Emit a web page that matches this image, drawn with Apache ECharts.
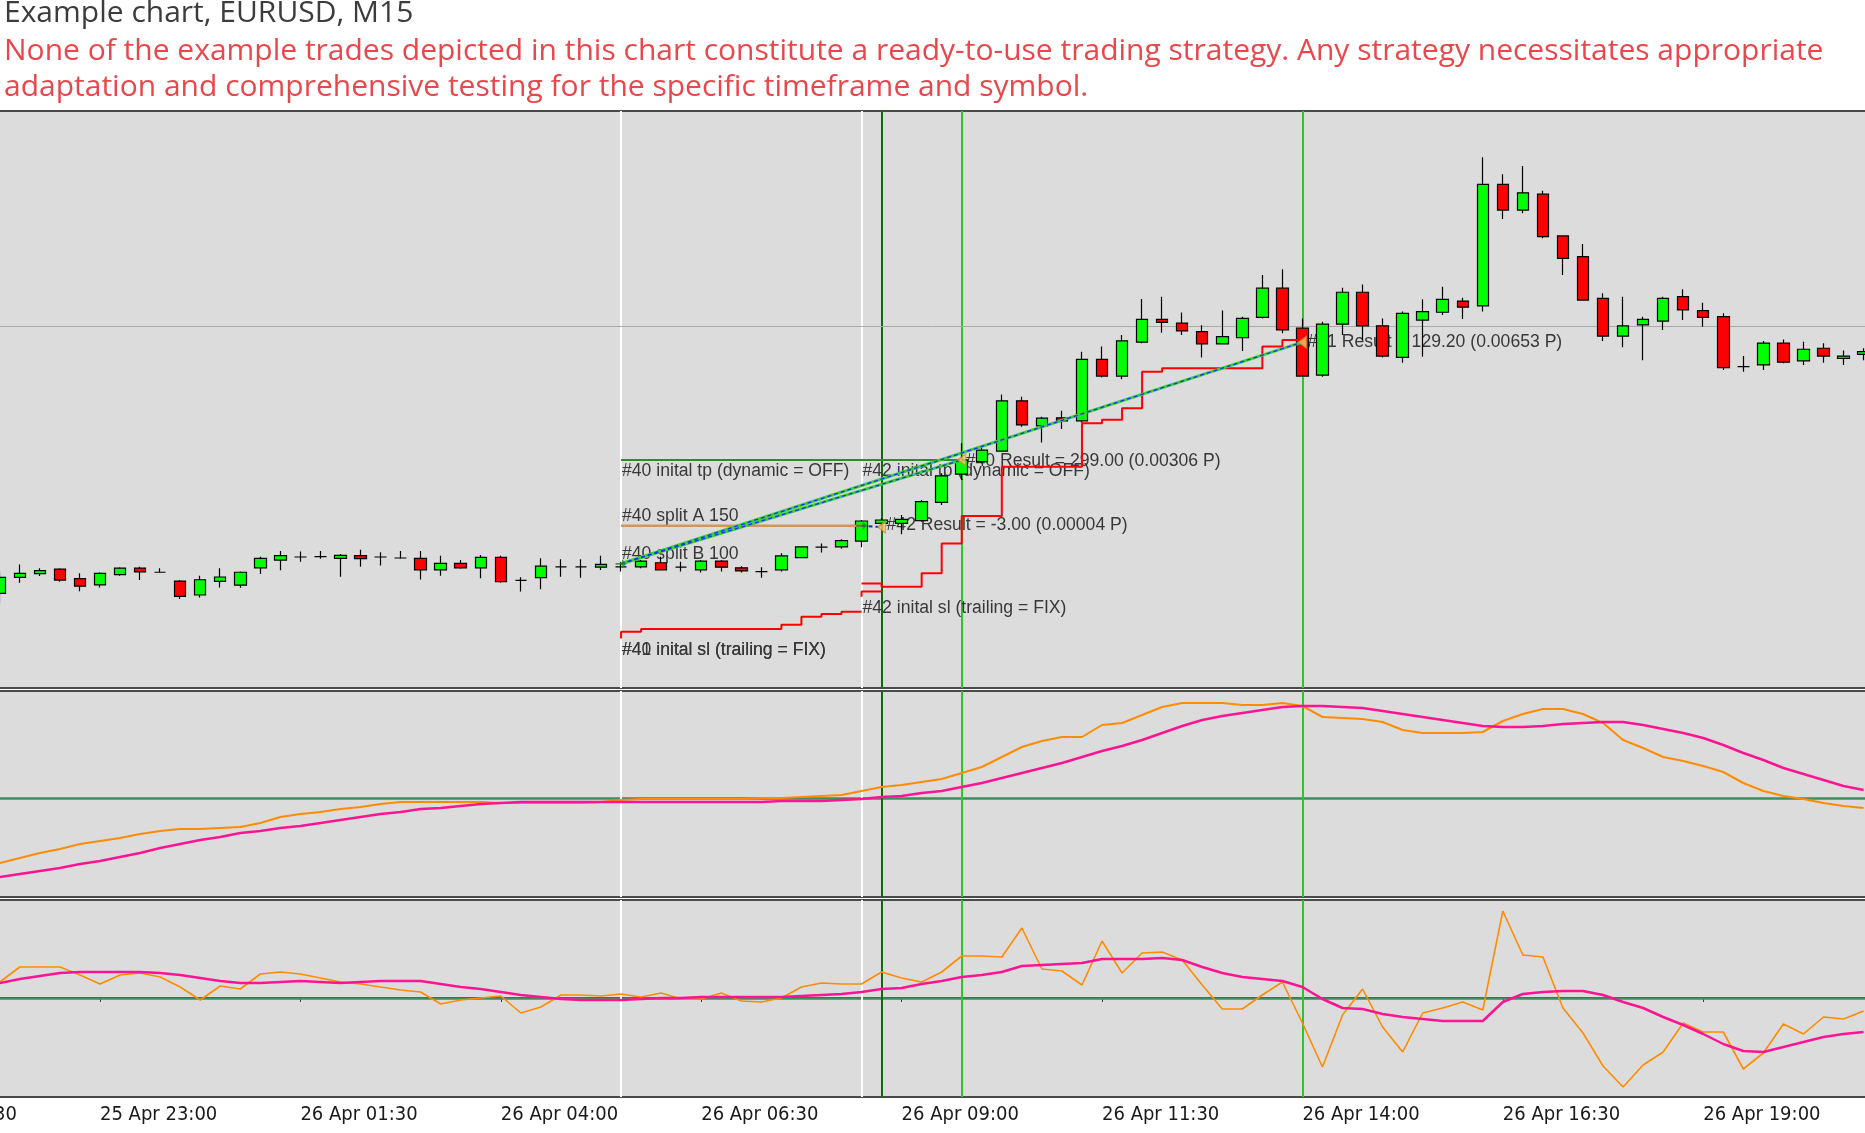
<!DOCTYPE html>
<html><head><meta charset="utf-8">
<script src="https://cdn.jsdelivr.net/npm/echarts@6/dist/echarts.min.js"></script>
<style>html,body{margin:0;padding:0;background:#fff}#c{width:1865px;height:1133px}</style>
</head><body><div id="c"></div><script>
// ---- categories (M15 bars) ----
const day25 = ['20:30','20:45','21:00','21:15','21:30','21:45','22:00','22:15','22:30','22:45','23:00','23:15','23:30','23:45'];
const day26 = [
 '00:00','00:15','00:30','00:45','01:00','01:15','01:30','01:45','02:00','02:15','02:30','02:45',
 '03:00','03:15','03:30','03:45','04:00','04:15','04:30','04:45','05:00','05:15','05:30','05:45',
 '06:00','06:15','06:30','06:45','07:00','07:15','07:30','07:45','08:00','08:15','08:30','08:45',
 '09:00','09:15','09:30','09:45','10:00','10:15','10:30','10:45','11:00','11:15','11:30','11:45',
 '12:00','12:15','12:30','12:45','13:00','13:15','13:30','13:45','14:00','14:15','14:30','14:45',
 '15:00','15:15','15:30','15:45','16:00','16:15','16:30','16:45','17:00','17:15','17:30','17:45',
 '18:00','18:15','18:30','18:45','19:00','19:15','19:30','19:45','20:00','20:15','20:30','20:45',
 '21:00','21:15'];
const categories = day25.map(t => '25 Apr ' + t).concat(day26.map(t => '26 Apr ' + t));
const firstBar = '25 Apr 21:45';

// ---- price candles: [open, close, low, high] ----
const ohlc = [
[1.06779,1.06826,1.06750,1.06843],[1.06826,1.06838,1.06810,1.06864],[1.06837,1.06846,1.06830,1.06853],
[1.06850,1.06818,1.06813,1.06853],[1.06822,1.06800,1.06785,1.06838],[1.06804,1.06838,1.06796,1.06841],
[1.06834,1.06853,1.06831,1.06856],[1.06853,1.06842,1.06818,1.06857],[1.06841,1.06841,1.06840,1.06853],
[1.06815,1.06770,1.06762,1.06818],[1.06774,1.06819,1.06767,1.06831],[1.06814,1.06827,1.06796,1.06853],
[1.06803,1.06841,1.06795,1.06843],[1.06854,1.06882,1.06836,1.06887],[1.06877,1.06890,1.06847,1.06904],
[1.06886,1.06886,1.06872,1.06902],[1.06887,1.06887,1.06881,1.06904],[1.06882,1.06891,1.06828,1.06895],
[1.06890,1.06881,1.06857,1.06907],[1.06886,1.06886,1.06861,1.06900],[1.06883,1.06883,1.06881,1.06904],
[1.06882,1.06848,1.06820,1.06904],[1.06848,1.06867,1.06831,1.06890],[1.06867,1.06854,1.06851,1.06877],
[1.06854,1.06885,1.06823,1.06892],[1.06885,1.06813,1.06810,1.06890],[1.06817,1.06817,1.06784,1.06826],
[1.06825,1.06859,1.06791,1.06882],[1.06857,1.06857,1.06828,1.06879],[1.06857,1.06857,1.06825,1.06879],
[1.06856,1.06864,1.06848,1.06890],[1.06857,1.06857,1.06843,1.06872],[1.06857,1.06874,1.06853,1.06877],
[1.06869,1.06848,1.06848,1.06887],[1.06856,1.06856,1.06843,1.06872],[1.06848,1.06874,1.06840,1.06877],
[1.06874,1.06856,1.06843,1.06877],[1.06854,1.06845,1.06840,1.06859],[1.06843,1.06843,1.06825,1.06856],
[1.06848,1.06889,1.06843,1.06897],[1.06884,1.06916,1.06882,1.06918],[1.06915,1.06915,1.06899,1.06926],
[1.06916,1.06934,1.06910,1.06938],[1.06933,1.06992,1.06915,1.06995],[1.06985,1.06995,1.06975,1.07000],
[1.06985,1.06997,1.06953,1.07010],[1.06993,1.07049,1.06990,1.07054],[1.07047,1.07125,1.07039,1.07133],
[1.07130,1.07172,1.07113,1.07221],[1.07167,1.07201,1.07162,1.07216],[1.07198,1.07346,1.07196,1.07365],
[1.07346,1.07275,1.07270,1.07358],[1.07272,1.07295,1.07223,1.07299],[1.07296,1.07287,1.07263,1.07317],
[1.07287,1.07468,1.07282,1.07491],[1.07468,1.07419,1.07415,1.07506],[1.07419,1.07523,1.07410,1.07540],
[1.07519,1.07586,1.07516,1.07646],[1.07586,1.07577,1.07547,1.07653],[1.07575,1.07552,1.07540,1.07606],
[1.07550,1.07514,1.07474,1.07569],[1.07514,1.07535,1.07514,1.07612],[1.07532,1.07589,1.07493,1.07594],
[1.07592,1.07678,1.07589,1.07717],[1.07678,1.07555,1.07545,1.07734],[1.07560,1.07419,1.07419,1.07589],
[1.07422,1.07572,1.07417,1.07579],[1.07572,1.07666,1.07540,1.07679],[1.07666,1.07567,1.07525,1.07689],
[1.07567,1.07478,1.07474,1.07589],[1.07474,1.07604,1.07458,1.07609],[1.07584,1.07609,1.07476,1.07645],
[1.07607,1.07645,1.07599,1.07682],[1.07640,1.07622,1.07587,1.07650],[1.07626,1.07984,1.07609,1.08064],
[1.07984,1.07908,1.07882,1.08014],[1.07908,1.07959,1.07899,1.08038],[1.07955,1.07830,1.07825,1.07965],
[1.07832,1.07766,1.07717,1.07832],[1.07771,1.07643,1.07643,1.07808],[1.07648,1.07537,1.07522,1.07663],
[1.07537,1.07567,1.07504,1.07653],[1.07570,1.07586,1.07466,1.07594],[1.07581,1.07648,1.07555,1.07653],
[1.07653,1.07614,1.07584,1.07675],[1.07612,1.07592,1.07564,1.07635],[1.07594,1.07444,1.07437,1.07604],
[1.07447,1.07447,1.07432,1.07478],[1.07452,1.07516,1.07437,1.07522],[1.07516,1.07460,1.07457,1.07527],
[1.07464,1.07498,1.07452,1.07520],[1.07501,1.07478,1.07458,1.07516],[1.07471,1.07478,1.07452,1.07494],
[1.07483,1.07491,1.07466,1.07501]];

// ---- indicator pane 1 (points) ----
const osc1Fast = [-65,-60,-55,-51,-46,-43,-40,-36,-33,-31,-31,-30,-29,-25,-19,-16,-14,-11,-9,-6,
 -4,-4,-4,-4,-4,-5,-5,-5,-5,-5,-4,-2,-1,-1,-1,-1,-1,-1,0,0,1,2,3,7,11,13,16,19,25,31,
 41,51,57,61,61,73,75,83,91,95,95,95,93,93,95,92,81,80,79,76,68,65,65,65,66,77,84,89,89,84,
 75,58,50,41,37,32,26,15,7,2,-1,-5,-8,-10];
const osc1Slow = [-79,-76,-73,-70,-66,-63,-59,-55,-50,-46,-42,-39,-35,-33,-30,-28,-25,-22,-19,-16,
 -14,-11,-10,-8,-6,-5,-4,-4,-4,-4,-4,-4,-4,-4,-4,-4,-4,-4,-4,-3,-3,-3,-2,-1,1,2,5,7,11,15,
 20,25,30,35,41,47,52,58,65,72,78,82,85,88,91,92,92,91,90,87,84,81,78,75,72,71,71,72,74,75,
 76,76,73,69,65,60,53,45,38,30,24,18,12,8];
// ---- indicator pane 2 (points) ----
const osc2Fast = [16,31,31,31,23,14,23,25,21,11,-2,12,9,24,26,24,20,16,14,11,
 8,6,-6,-2,0,2,-15,-9,3,3,2,4,1,5,-1,-1,5,-3,-4,0,11,15,14,14,26,20,16,26,42,42,
 41,70,29,27,13,57,25,45,46,38,13,-11,-11,3,16,-25,-69,-17,9,-29,-54,-15,-10,-4,-12,87,43,41,-10,-35,
 -68,-89,-67,-54,-25,-34,-34,-71,-55,-26,-36,-19,-21,-13];
const osc2Slow = [15,19,22,25,26,26,26,26,25,23,20,17,15,15,16,17,16,15,16,17,
 17,17,14,11,9,6,3,1,-1,-2,-2,-2,-1,0,0,1,1,1,1,1,2,3,4,6,9,10,14,17,21,23,
 26,32,33,34,35,39,39,39,40,38,31,25,21,19,17,11,-1,-10,-11,-16,-19,-21,-23,-23,-23,-4,4,6,7,7,
 3,-4,-10,-19,-27,-36,-46,-53,-54,-49,-44,-39,-36,-34];

// ---- trade objects ----
const priceLevel = 1.07567;
const tp40 = [['26 Apr 05:30',1.07172],['26 Apr 09:45',1.07172]];
const tp42 = [['26 Apr 08:30',1.07172],['26 Apr 09:45',1.07172]];
const splitA = [['26 Apr 05:30',1.06978],['26 Apr 08:30',1.06978]];
const sl40 = [['26 Apr 05:30',1.06646],['26 Apr 05:30',1.06666],['26 Apr 05:45',1.06674],['26 Apr 07:30',1.06686],
 ['26 Apr 07:45',1.06710],['26 Apr 08:00',1.06718],['26 Apr 08:15',1.06725],['26 Apr 08:30',1.06725]];
const sl42 = [['26 Apr 08:30',1.06769],['26 Apr 08:30',1.06784],['26 Apr 08:45',1.06784]];
const slTrail = [['26 Apr 08:30',1.06808],['26 Apr 08:45',1.06798],['26 Apr 09:15',1.06838],['26 Apr 09:30',1.06926],
 ['26 Apr 09:45',1.07007],['26 Apr 10:15',1.07152],['26 Apr 11:15',1.07280],['26 Apr 11:30',1.07290],
 ['26 Apr 11:45',1.07324],['26 Apr 12:00',1.07432],['26 Apr 12:15',1.07442],['26 Apr 13:30',1.07506],
 ['26 Apr 13:45',1.07525],['26 Apr 14:00',1.07525]];
const trade40a = [['26 Apr 05:30',1.06866],['26 Apr 09:45',1.07172]];
const trade40b = [['26 Apr 05:30',1.06866],['26 Apr 14:00',1.07519]];
const trade42 = [['26 Apr 08:30',1.06978],['26 Apr 08:45',1.06974]];
const entries = [['26 Apr 05:30',1.06866],['26 Apr 08:30',1.06978]];
const exits = [['26 Apr 08:45',1.06974],['26 Apr 09:45',1.07172],['26 Apr 14:00',1.07519]];
const whiteLines = ['26 Apr 05:30','26 Apr 08:30'];
const darkGreenLines = ['26 Apr 08:45'];
const greenLines = ['26 Apr 09:45','26 Apr 14:00'];

const annoText = ['#40 inital tp (dynamic = OFF)','#42 inital tp (dynamic = OFF)','#40 split A 150','#40 split B 100',
 '#41 inital sl (trailing = FIX)','#40 inital sl (trailing = FIX)','#42 inital sl (trailing = FIX)',
 '#40 Result = 299.00 (0.00306 P)','#42 Result = -3.00 (0.00004 P)','#41 Result = 129.20 (0.00653 P)'];
const annoTime = ['26 Apr 05:30','26 Apr 08:30','26 Apr 05:30','26 Apr 05:30','26 Apr 05:30','26 Apr 05:30',
 '26 Apr 08:30','26 Apr 09:45','26 Apr 08:45','26 Apr 14:00'];
const annoPrice = [1.07172,1.07172,1.06978,1.06866,1.06666,1.06666,1.06784,1.07172,1.06974,1.07519];

// ---- styling (offsets in px) ----
const annoStyle = [
 {dx:1,dy:2,va:'top'},{dx:1,dy:2,va:'top'},{dx:1,dy:-1,va:'bottom'},{dx:1,dy:-1,va:'bottom'},
 {dx:1,dy:9,va:'top'},{dx:1,dy:9,va:'top'},{dx:1,dy:8,va:'top'},
 {dx:4,dy:1,va:'middle'},{dx:5,dy:-2,va:'middle'},{dx:5,dy:0,va:'middle'}];

const startIdx = categories.indexOf(firstBar);
const barTimes = categories.slice(startIdx, startIdx + ohlc.length);
const pair = arr => arr.map((v, i) => [barTimes[i], v]);

const vLines = [].concat(
  whiteLines.map(t => ({xAxis: t, lineStyle: {color: '#ffffff', width: 2, type: 'solid'}})),
  darkGreenLines.map(t => ({xAxis: t, lineStyle: {color: '#0c6b0c', width: 2, type: 'solid'}})),
  greenLines.map(t => ({xAxis: t, lineStyle: {color: '#22cc22', width: 2, type: 'solid'}}))
);
const zeroLine = {yAxis: 0, lineStyle: {color: '#3f8c5c', width: 2.5, type: 'solid'}};
const mk = (list) => ({silent: true, symbol: ['none','none'], label: {show: false}, z: 1, animation: false,
  precision: 6, emphasis: {disabled: true}, data: list});

const gridBase = {left: -100.4, right: -18.6, show: true, backgroundColor: '#dcdcdc', borderColor: '#4a4a4a',
  borderWidth: 2, outerBoundsMode: 'none', containLabel: false};

const lineS = (data, color, width, z, extra) => Object.assign({type: 'line', xAxisIndex: 0, yAxisIndex: 0,
  data: data, symbol: 'none', z: z, lineStyle: {color: color, width: width}, silent: true}, extra || {});

const chart = echarts.init(document.getElementById('c'), null, {renderer: 'canvas'});
chart.setOption({
  animation: false,
  backgroundColor: '#ffffff',
  title: {
    text: 'Example chart, EURUSD, M15',
    subtext: 'None of the example trades depicted in this chart constitute a ready-to-use trading strategy. Any strategy necessitates appropriate\nadaptation and comprehensive testing for the specific timeframe and symbol.',
    left: 4, top: 0, padding: 0, itemGap: 3,
    textStyle: {fontFamily: 'Open Sans', fontSize: 30, fontWeight: 'normal', color: '#3c3c3c', lineHeight: 26},
    subtextStyle: {fontFamily: 'Open Sans', fontSize: 30, color: '#e8474c', lineHeight: 36}
  },
  grid: [
    Object.assign({}, gridBase, {top: 111, height: 577}),
    Object.assign({}, gridBase, {top: 691, height: 206}),
    Object.assign({}, gridBase, {top: 900, height: 197})
  ],
  xAxis: [0, 1, 2].map(g => ({
    type: 'category', gridIndex: g, data: categories, boundaryGap: false, show: g === 2,
    axisLine: {show: true, lineStyle: {color: '#3a3a3a', width: 2}},
    axisTick: {show: true, interval: 9, length: 4, lineStyle: {color: '#3a3a3a', width: 1}},
    axisLabel: {interval: 9, align: 'left', margin: 8, color: '#1a1a1a', fontSize: 20,
      fontFamily: '"DejaVu Sans Condensed", "DejaVu Sans", sans-serif'},
    splitLine: {show: false}
  })),
  yAxis: [
    {type: 'value', gridIndex: 0, min: 1.0650, max: 1.0820, show: false},
    {type: 'value', gridIndex: 1, min: -99, max: 107, show: false},
    {type: 'value', gridIndex: 2, min: -99, max: 98, show: false}
  ],
  series: [
    {
      type: 'candlestick', name: 'EURUSD', xAxisIndex: 0, yAxisIndex: 0, z: 3, barWidth: 12,
      data: ohlc.map((d, i) => [barTimes[i]].concat(d)),
      encode: {x: 0, y: [1, 2, 3, 4]},
      itemStyle: {color: '#00ff00', color0: '#ff0000', borderColor: '#000000', borderColor0: '#000000',
        borderColorDoji: '#000000', borderWidth: 1.2},
      markLine: mk(vLines)
    },
    {
      type: 'custom', xAxisIndex: 0, yAxisIndex: 0, z: 2, silent: true,
      data: annoTime.map((t, i) => [t, annoPrice[i]]),
      encode: {x: 0, y: 1},
      renderItem: function (params, api) {
        const i = params.dataIndex;
        const p = api.coord([api.value(0), api.value(1)]);
        const s = annoStyle[i];
        return {type: 'text', x: p[0] + s.dx, y: p[1] + s.dy,
          style: {text: annoText[i], fill: '#383838', font: '17.6px "Liberation Sans", Arial, sans-serif',
            align: 'left', verticalAlign: s.va, textAlign: 'left', textVerticalAlign: s.va}};
      }
    },
    lineS(tp40, '#2e8b2e', 2, 4, {markLine: mk([{yAxis: priceLevel, lineStyle: {color: '#a9a9a9', width: 1, type: 'solid'}}])}),
    lineS(tp42, '#2e8b2e', 2, 4),
    lineS(splitA, '#d4955a', 2.5, 4),
    lineS(sl40, '#ff0000', 2, 4, {step: 'end'}),
    lineS(sl42, '#ff0000', 2, 4, {step: 'end'}),
    lineS(slTrail, '#ff0000', 2, 4, {step: 'end'}),
    lineS(trade40a, '#3ccf3c', 3, 4),
    lineS(trade40a, '#1a2cff', 1.3, 4.1, {lineStyle: {color: '#1a2cff', width: 1.3, type: [4, 3]}}),
    lineS(trade40b, '#3ccf3c', 3, 4),
    lineS(trade40b, '#1a2cff', 1.3, 4.1, {lineStyle: {color: '#1a2cff', width: 1.3, type: [4, 3]}}),
    lineS(trade42, '#1a2c9f', 2, 4.1, {lineStyle: {color: '#1a2c9f', width: 2, type: [4, 3]}}),
    {type: 'scatter', xAxisIndex: 0, yAxisIndex: 0, z: 5, silent: true, data: entries,
      symbol: 'path://M0,4 L6,4 L6,0 L10,5 L6,10 L6,6 L0,6 Z', symbolSize: [11, 9],
      itemStyle: {color: '#1e8c1e'}},
    {type: 'scatter', xAxisIndex: 0, yAxisIndex: 0, z: 5, silent: true, data: exits,
      symbol: 'triangle', symbolRotate: 90, symbolSize: [12, 8],
      itemStyle: {color: '#f2c66a', borderColor: '#c98a2a', borderWidth: 1}},
    // pane 2
    {type: 'line', xAxisIndex: 1, yAxisIndex: 1, data: pair(osc1Fast), symbol: 'none', z: 3, silent: true,
      lineStyle: {color: '#ff8c00', width: 2}, markLine: mk([zeroLine].concat(vLines))},
    {type: 'line', xAxisIndex: 1, yAxisIndex: 1, data: pair(osc1Slow), symbol: 'none', z: 4, silent: true,
      lineStyle: {color: '#ff1493', width: 2.5}},
    // pane 3
    {type: 'line', xAxisIndex: 2, yAxisIndex: 2, data: pair(osc2Fast), symbol: 'none', z: 3, silent: true,
      lineStyle: {color: '#ff8c00', width: 1.6}, markLine: mk([zeroLine].concat(vLines))},
    {type: 'line', xAxisIndex: 2, yAxisIndex: 2, data: pair(osc2Slow), symbol: 'none', z: 4, silent: true,
      lineStyle: {color: '#ff1493', width: 2.5}}
  ]
});
</script></body></html>
